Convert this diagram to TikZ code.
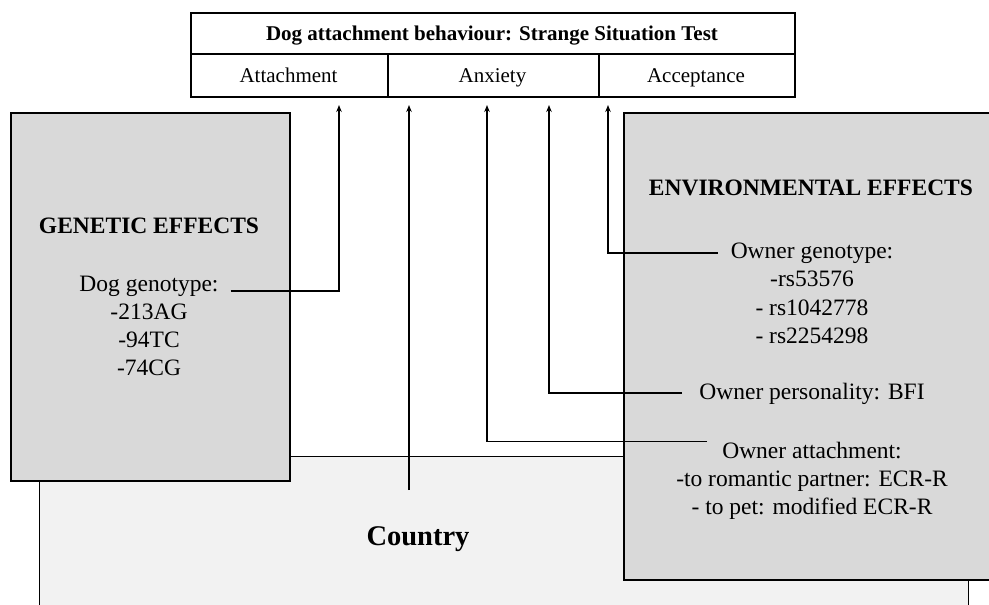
\documentclass[tikz,border=0pt]{standalone}
\usepackage{fontspec}
\setmainfont{Liberation Serif}
\usetikzlibrary{arrows.meta}
\definecolor{boxgray}{HTML}{D9D9D9}
\definecolor{ctrygray}{HTML}{F2F2F2}
\newcommand\mybody{\fontsize{23.5}{28.5}\selectfont}
\newcommand\mytab{\fontsize{21}{25}\selectfont}
\begin{document}
\begin{tikzpicture}[x=1pt,y=-1pt,
  cellbox/.style={draw, line width=1.6pt, fill=white, inner sep=0pt, anchor=north west},
  bigbox/.style={draw, line width=1.8pt, fill=boxgray, inner sep=0pt, anchor=north west},
  ctrybox/.style={draw, line width=1.3pt, fill=ctrygray, inner sep=0pt, anchor=north west},
  tx/.style={font=\mybody, inner sep=0pt, anchor=base},
  hd/.style={font=\mybody\bfseries, inner sep=0pt, anchor=base},
  tabtx/.style={font=\mytab, inner sep=0pt, anchor=base},
  arr/.style={line width=1.8pt, -{Stealth[length=7pt,width=5.5pt]}},
  plain/.style={line width=1.8pt}
]
\useasboundingbox (0,0) rectangle (989,605);
\clip (0,0) rectangle (989,605);

% Country box (background)
\node[ctrybox, minimum width=929pt, minimum height=200pt] (ctry) at (39,456) {};
\node[font=\fontsize{28.5}{32}\selectfont\bfseries, inner sep=0pt, anchor=base] (ctrytxt) at (418,545) {Country};

% Genetic and environmental boxes
\node[bigbox, minimum width=279pt, minimum height=368pt] (gen) at (10,112) {};
\node[bigbox, minimum width=376pt, minimum height=467pt] (env) at (623,112) {};

% Table
\node[cellbox, minimum width=604pt, minimum height=41pt] (title) at (190,12) {};
\node[cellbox, minimum width=197pt, minimum height=43pt] (att) at (190,53) {};
\node[cellbox, minimum width=211pt, minimum height=43pt] (anx) at (387,53) {};
\node[cellbox, minimum width=196pt, minimum height=43pt] (acc) at (598,53) {};
\node[font=\mytab\bfseries, inner sep=0pt, anchor=base] (titletxt) at (492,41) {Dog attachment behaviour: Strange Situation Test};
\node[tabtx] (atttxt) at (288.5,82) {Attachment};
\node[tabtx] (anxtxt) at (492.5,82) {Anxiety};
\node[tabtx] (acctxt) at (696,82) {Acceptance};

% Genetic texts
\node[hd] (gh) at (149,233) {GENETIC EFFECTS};
\node[tx] (dg) at (149,291) {Dog genotype:};
\node[tx] (d1) at (149,319) {-213AG};
\node[tx] (d2) at (149,347) {-94TC};
\node[tx] (d3) at (149,375) {-74CG};

% Environmental texts
\node[hd] (eh) at (811,195) {ENVIRONMENTAL EFFECTS};
\node[tx] (og) at (812,258) {Owner genotype:};
\node[tx] (og1) at (812,286.5) {-rs53576};
\node[tx] (og2) at (812,315) {- rs1042778};
\node[tx] (og3) at (812,343) {- rs2254298};
\node[tx] (op) at (812,399) {Owner personality: BFI};
\node[tx] (oa) at (812,458) {Owner attachment:};
\node[tx] (oa1) at (812,486) {-to romantic partner: ECR-R};
\node[tx] (oa2) at (812,514) {- to pet: modified ECR-R};

% Arrow targets
\coordinate (t1) at (339,105);
\coordinate (t2) at (409,105);
\coordinate (t3) at (487,105);
\coordinate (t4) at (549,105);
\coordinate (t5) at (608,105);
\coordinate (cstart) at (409,490);

% Connectors
\draw[arr] ([xshift=12pt]dg.base east) -| (t1);
\draw[arr] (cstart) -- (t2);
\draw[arr] ([xshift=-15pt]oa.north west) -| (t3);
\draw[arr] ([xshift=-17pt]op.west) -| (t4);
\draw[arr] ([xshift=-13pt]og.west) -| (t5);
\end{tikzpicture}
\end{document}
